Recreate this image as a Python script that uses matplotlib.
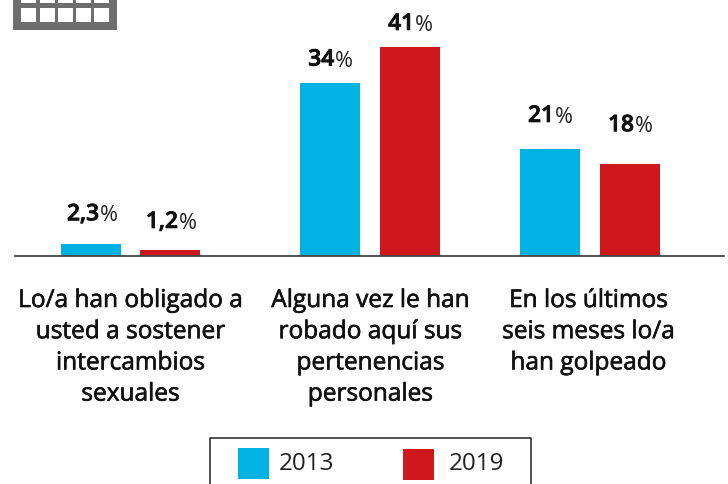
import matplotlib
matplotlib.use("Agg")
import matplotlib.pyplot as plt
import matplotlib.patheffects as pe
from matplotlib.patches import Rectangle

categories = ["Lo/a han obligado a\nusted a sostener\nintercambios\nsexuales",
              "Alguna vez le han\nrobado aquí sus\npertenencias\npersonales",
              "En los últimos\nseis meses lo/a\nhan golpeado"]
values_2013 = [2.3, 34, 21]
values_2019 = [1.2, 41, 18]
labels_2013 = ["2,3", "34", "21"]
labels_2019 = ["1,2", "41", "18"]
series = ["2013", "2019"]

BLUE, RED = "#00B2E3", "#CE181E"
W, H = 728, 484
plt.rcParams['font.family'] = ['Open Sans', 'Noto Sans', 'DejaVu Sans']
fig = plt.figure(figsize=(W/100, H/100), dpi=100)
heavier = [pe.withStroke(linewidth=0.45, foreground="#111111")]
heavier_num = [pe.withStroke(linewidth=0.6, foreground="#111111")]

# axes: x in pixels 15..724, baseline at y=256, 5.1 px per percent
ax = fig.add_axes([15/W, (H-256)/H, 709/W, 256/H])
ax.set_xlim(15, 724)
ax.set_ylim(0, 256/5.1)
ax.patch.set_alpha(0)
for s in ["top", "left", "right"]:
    ax.spines[s].set_visible(False)
ax.spines["bottom"].set_color("#444444")
ax.spines["bottom"].set_linewidth(1.3)
ax.set_yticks([]); ax.set_xticks([])

centers = [130.5, 370, 590]
offs = [39.5, 40, 40]
bw = 60
gap_2013 = [18, 11, 21]   # label gap above the bar, pixels
gap_2019 = [16, 11, 27]
shift = [8, 4, 4]         # number's right edge relative to the bar centre, pixels
for c, o, v1, v2, l1, l2, g1, g2, sh in zip(centers, offs, values_2013, values_2019,
                                            labels_2013, labels_2019, gap_2013, gap_2019, shift):
    ax.bar(c-o, v1, bw, color=BLUE, zorder=1, clip_on=False)
    ax.bar(c+o, v2, bw, color=RED, zorder=1, clip_on=False)
    for x, v, l, g in ((c-o, v1, l1, g1), (c+o, v2, l2, g2)):
        t = ax.annotate(l, (x+sh, v), xytext=(0, g), textcoords="offset pixels", ha="right", va="bottom",
                    fontsize=16.4, fontweight="semibold", color="#111111", annotation_clip=False,
                    path_effects=heavier_num)
        ax.annotate("%", (1, 0), xycoords=t, xytext=(1, 0), textcoords="offset pixels", ha="left", va="bottom",
                    fontsize=15.6, color="#222222", annotation_clip=False)

label_x = [130.5, 370.5, 588.5]
for x, c in zip(label_x, categories):
    ax.annotate(c, (x, 0), xytext=(0, -33), textcoords="offset pixels", ha="center", va="top",
                fontsize=17.6, color="#111111", linespacing=1.4, annotation_clip=False,
                path_effects=heavier)

# overlay in pixel coordinates for icon and legend
ov = fig.add_axes([0, 0, 1, 1], zorder=5)
ov.set_xlim(0, W); ov.set_ylim(H, 0); ov.axis("off")
ov.add_patch(Rectangle((13, 0), 104, 30, fc="#6E6E6E", ec="none"))
for x in (21, 40, 58, 76, 94):
    ov.add_patch(Rectangle((x, 8), 14.5, 14, fc="white", ec="none"))
    ov.add_patch(Rectangle((x, -4), 14.5, 7, fc="white", ec="none"))

ov.plot([210, 210, 531, 531], [484, 438, 438, 484], color="#222222", lw=1.1, clip_on=False)
ov.add_patch(Rectangle((238, 448), 31, 31, fc=BLUE, ec="none"))
ov.add_patch(Rectangle((403, 449), 31, 31, fc=RED, ec="none"))
ov.text(279, 464.5, series[0], fontsize=17.4, color="#222222", va="center", ha="left")
ov.text(449, 464.5, series[1], fontsize=17.4, color="#222222", va="center", ha="left")

fig.savefig("out.png", dpi=100)
